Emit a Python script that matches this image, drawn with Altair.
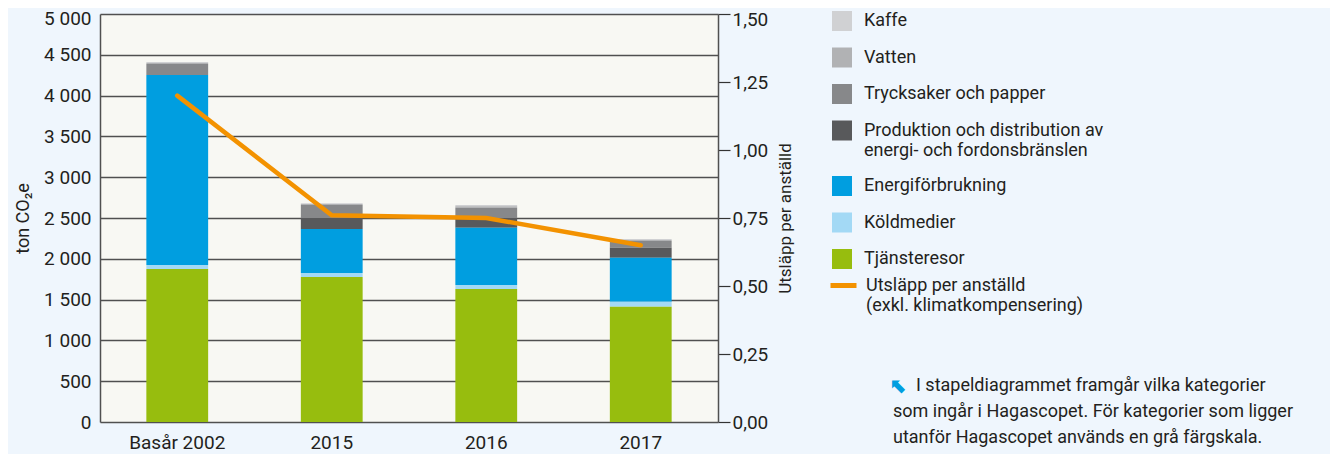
import altair as alt
import pandas as pd

years = ["Basår 2002", "2015", "2016", "2017"]
categories = [
    "Kaffe",
    "Vatten",
    "Trycksaker och papper",
    "Produktion och distribution av energi- och fordonsbränslen",
    "Energiförbrukning",
    "Köldmedier",
    "Tjänsteresor",
]
colors = ["#d0d1d3", "#b1b2b4", "#87888a", "#58595b", "#009ee0", "#a3d9f5", "#97bd0e"]

kaffe = [12, 9, 16, 12]
vatten = [12, 12, 17, 13]
trycksaker = [135, 159, 126, 82]
produktion = [0, 135, 119, 122]
energi = [2328, 539, 702, 540]
koldmedier = [50, 49, 49, 61]
tjansteresor = [1875, 1777, 1630, 1413]

per_anstalld = [1.20, 0.76, 0.75, 0.65]
line_label = "Utsläpp per anställd (exkl. klimatkompensering)"

left_ticks = [0, 500, 1000, 1500, 2000, 2500, 3000, 3500, 4000, 4500, 5000]
right_ticks = [0.0, 0.25, 0.5, 0.75, 1.0, 1.25, 1.5]

note_first = "I stapeldiagrammet framgår vilka kategorier"
note_rest = "som ingår i Hagascopet. För kategorier som ligger\nutanför Hagascopet används en grå färgskala."

FONT = "Roboto"
TXT = "#231f20"

series = [kaffe, vatten, trycksaker, produktion, energi, koldmedier, tjansteresor]
rows = []
for ci, (cat, vals) in enumerate(zip(categories, series)):
    for yi, yr in enumerate(years):
        rows.append({"year": yr, "kategori": cat, "value": vals[yi], "order": len(categories) - ci})
bars_df = pd.DataFrame(rows)
line_df = pd.DataFrame({"year": years, "value": per_anstalld, "serie": [line_label] * len(years)})

x_enc = alt.X(
    "year:N",
    sort=years,
    scale=alt.Scale(paddingInner=0.6, paddingOuter=0.3),
    axis=alt.Axis(title=None, labelAngle=0, ticks=False, domain=False, labelPadding=11,
                  labelFontSize=19, labelColor=TXT, labelFont=FONT),
)

bars = alt.Chart(bars_df).mark_bar().encode(
    x=x_enc,
    y=alt.Y(
        "value:Q",
        stack="zero",
        scale=alt.Scale(domain=[0, 5000], nice=False),
        axis=alt.Axis(
            title="ton CO₂e", values=left_ticks, ticks=False, grid=True, gridColor="#505050",
            gridWidth=1.3, domain=True, domainColor="#505050", domainWidth=1.5,
            labelExpr="replace(format(datum.value, ','), ',', ' ')",
            labelOffset={"condition": {"test": "datum.value == 5000", "value": 4}, "value": 0},
            labelPadding=9, labelFontSize=19, labelColor=TXT, labelFont=FONT,
            titleFont=FONT, titleFontSize=18, titleFontWeight="normal", titleColor=TXT,
            titlePadding=11,
        ),
    ),
    color=alt.Color(
        "kategori:N",
        scale=alt.Scale(domain=categories, range=colors),
        legend=alt.Legend(
            title=None, orient="none", legendX=732, legendY=-3, padding=0,
            symbolType="square", symbolSize=400, symbolStrokeWidth=0,
            labelFont=FONT, labelFontSize=18, labelColor=TXT, labelOffset=12,
            labelLimit=0, rowPadding=16.5, gridAlign="each",
            labelExpr="datum.label == 'Produktion och distribution av energi- och fordonsbränslen' ? ['Produktion och distribution av', 'energi- och fordonsbränslen'] : datum.label",
        ),
    ),
    order=alt.Order("order:Q", sort="ascending"),
)

line = alt.Chart(line_df).mark_line(strokeWidth=4.5, strokeCap="round").encode(
    x=alt.X("year:N", sort=years),
    y=alt.Y(
        "value:Q",
        scale=alt.Scale(domain=[0, 1.5], nice=False),
        axis=alt.Axis(
            orient="right", title="Utsläpp per anställd", values=right_ticks, grid=False,
            domain=True, domainColor="#505050", domainWidth=1.5, ticks=True, tickSize=12,
            tickColor="#333", tickWidth=1.2,
            labelExpr="replace(format(datum.value, '.2f'), '.', ',')",
            labelOffset={"condition": {"test": "datum.value == 1.5", "value": 5}, "value": 0},
            labelPadding=2, labelFontSize=19, labelColor=TXT, labelFont=FONT,
            titleFont=FONT, titleFontSize=17, titleFontWeight="normal", titleColor=TXT,
            titlePadding=10, titleAngle=270, titleBaseline="top",
        ),
    ),
    stroke=alt.Stroke(
        "serie:N",
        scale=alt.Scale(domain=[line_label], range=["#f39200"]),
        legend=alt.Legend(
            title=None, orient="none", legendX=728, legendY=256, padding=0,
            symbolType="stroke", symbolSize=676, symbolStrokeWidth=5,
            labelFont=FONT, labelFontSize=18, labelColor=TXT, labelOffset=7, labelLimit=0,
            labelExpr="['Utsläpp per anställd', '(exkl. klimatkompensering)']",
        ),
    ),
)

arrow = alt.Chart(pd.DataFrame({"t": ["⬉"]})).mark_text(
    align="left", baseline="alphabetic", font="DejaVu Sans", fontSize=21, fontWeight="bold", color="#009ee0"
).encode(x=alt.value(790), y=alt.value(379), text="t:N")

note1 = alt.Chart(pd.DataFrame({"t": [note_first]})).mark_text(
    align="left", baseline="alphabetic", font=FONT, fontSize=18, color=TXT
).encode(x=alt.value(816), y=alt.value(377), text="t:N")

note2 = alt.Chart(pd.DataFrame({"t": [note_rest]})).mark_text(
    align="left", baseline="alphabetic", font=FONT, fontSize=18, color=TXT, lineBreak="\n", lineHeight=26
).encode(x=alt.value(793), y=alt.value(403), text="t:N")

chart = (
    alt.layer(bars, line, arrow, note1, note2)
    .resolve_scale(y="independent", color="independent")
    .properties(
        width=618, height=408,
        autosize=alt.AutoSizeParams(type="none"),
        padding={"left": 92, "top": 6, "right": 612, "bottom": 38},
        background="#eff6fd",
    )
    .configure_view(fill="#f8f8f3", stroke=None)
)

chart.save("out.html", embed_options={"renderer": "svg", "actions": False})
